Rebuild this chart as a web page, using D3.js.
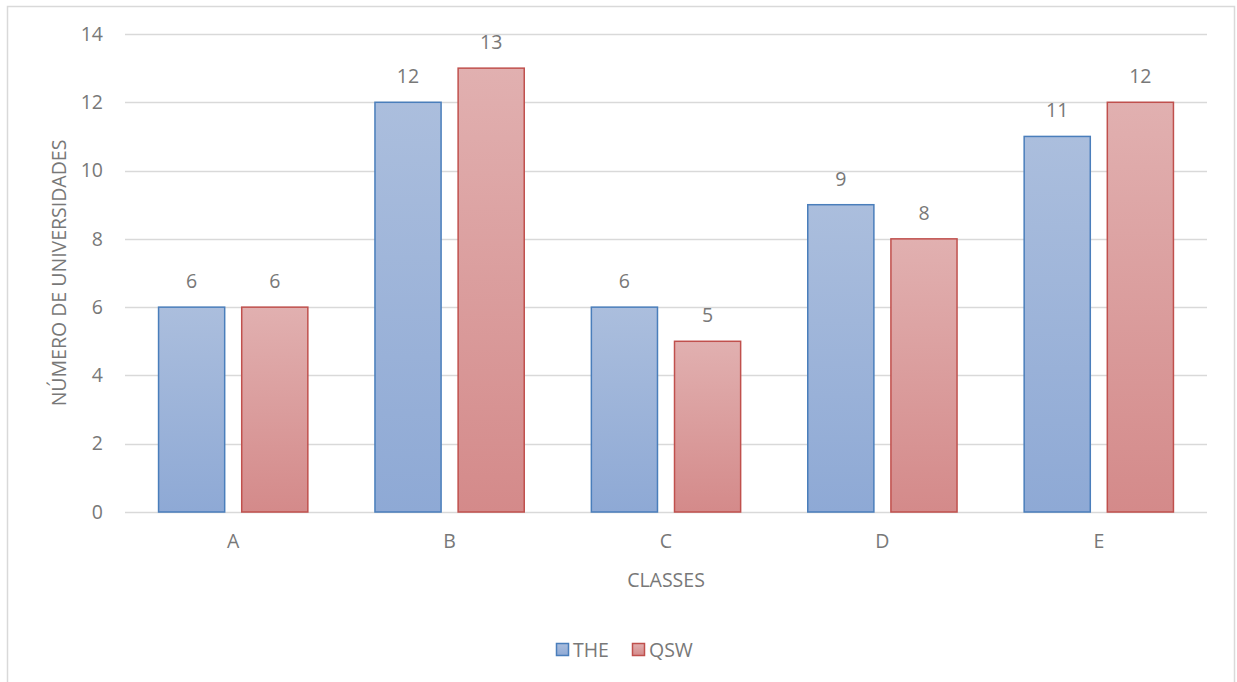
<!DOCTYPE html>
<html>
<head>
<meta charset="utf-8">
<script src="https://cdn.jsdelivr.net/npm/d3@7"></script>
<style>
  html, body { margin: 0; padding: 0; background: #fff; }
  svg { display: block; font-family: "Open Sans", Lato, sans-serif; }
</style>
</head>
<body>
<svg id="chart" width="1237" height="682"></svg>
<script>
const categories = ["A", "B", "C", "D", "E"];
const seriesNames = ["THE", "QSW"];
const theValues = [6, 12, 6, 9, 11];
const qswValues = [6, 13, 5, 8, 12];
const yTicks = [0, 2, 4, 6, 8, 10, 12, 14];

const series = [
  { name: seriesNames[0], values: theValues, top: "#abbedd", bottom: "#8ea9d5", stroke: "#4a7ebb" },
  { name: seriesNames[1], values: qswValues, top: "#e1b0b0", bottom: "#d48a8a", stroke: "#c0504d" }
];

const svg = d3.select("#chart");
const textColor = "#787878";
const fontSize = 19.5;

// outer chart border
svg.append("rect")
  .attr("x", 7.5).attr("y", 6.5).attr("width", 1227).attr("height", 690)
  .attr("fill", "none").attr("stroke", "#d9d9d9").attr("stroke-width", 1.5);

const defs = svg.append("defs");
series.forEach((s, i) => {
  const g = defs.append("linearGradient").attr("id", "grad" + i)
    .attr("x1", 0).attr("y1", 0).attr("x2", 0).attr("y2", 1);
  g.append("stop").attr("offset", "0%").attr("stop-color", s.top);
  g.append("stop").attr("offset", "100%").attr("stop-color", s.bottom);
});

const plot = { left: 125, right: 1207, top: 34, bottom: 512 };

const x = d3.scaleBand().domain(categories).range([plot.left, plot.right]);
const xInner = d3.scaleBand().domain(seriesNames).range([0, x.bandwidth()])
  .paddingInner(16 / 83).paddingOuter(33 / 83);
const y = d3.scaleLinear().domain([0, 14]).range([plot.bottom, plot.top]);

// gridlines
svg.append("g").selectAll("line").data(yTicks).join("line")
  .attr("x1", plot.left).attr("x2", plot.right)
  .attr("y1", d => Math.round(y(d)) + 0.5).attr("y2", d => Math.round(y(d)) + 0.5)
  .attr("stroke", "#d9d9d9").attr("stroke-width", 1.3);

// y axis tick labels
const yAxis = d3.axisLeft(y).tickValues(yTicks).tickSize(0).tickPadding(0);
const yg = svg.append("g").attr("transform", `translate(${plot.left - 22},0)`).call(yAxis);
yg.select(".domain").remove();
yg.selectAll("text").attr("fill", textColor).attr("font-size", fontSize)
  .attr("font-family", "'Open Sans', sans-serif");

// x axis category labels
const xAxis = d3.axisBottom(x).tickSize(0).tickPadding(0);
const xg = svg.append("g").attr("transform", `translate(0,${plot.bottom + 22})`).call(xAxis);
xg.select(".domain").remove();
xg.selectAll("text").attr("fill", textColor).attr("font-size", fontSize)
  .attr("font-family", "'Open Sans', sans-serif");

// bars
const groups = svg.append("g").selectAll("g").data(categories).join("g")
  .attr("transform", d => `translate(${x(d)},0)`);

series.forEach((s, si) => {
  groups.append("rect")
    .attr("x", () => xInner(s.name) + 0.5)
    .attr("y", (d, i) => y(s.values[i]))
    .attr("width", xInner.bandwidth() - 1)
    .attr("height", (d, i) => y(0) - y(s.values[i]))
    .attr("fill", `url(#grad${si})`)
    .attr("stroke", s.stroke).attr("stroke-width", 1.5);

  groups.append("text")
    .attr("x", xInner(s.name) + xInner.bandwidth() / 2)
    .attr("y", (d, i) => y(s.values[i]) - 19)
    .attr("text-anchor", "middle")
    .attr("fill", textColor).attr("font-size", fontSize)
    .text((d, i) => s.values[i]);
});

// axis titles
svg.append("text")
  .attr("x", (plot.left + plot.right) / 2).attr("y", 587)
  .attr("text-anchor", "middle").attr("fill", textColor).attr("font-size", fontSize)
  .text("CLASSES");

svg.append("text")
  .attr("transform", `translate(66,${(plot.top + plot.bottom) / 2}) rotate(-90)`)
  .attr("text-anchor", "middle").attr("fill", textColor).attr("font-size", fontSize)
  .text("NÚMERO DE UNIVERSIDADES");

// legend
const legend = svg.append("g").attr("transform", "translate(556,643)");
const legendX = [0, 76];
series.forEach((s, i) => {
  const lg = legend.append("g").attr("transform", `translate(${legendX[i]},0)`);
  lg.append("rect").attr("x", 0.5).attr("y", 0.5).attr("width", 12).attr("height", 12)
    .attr("fill", `url(#grad${i})`).attr("stroke", s.stroke).attr("stroke-width", 1.5);
  lg.append("text").attr("x", 17).attr("y", 14)
    .attr("fill", textColor).attr("font-size", fontSize).text(s.name);
});
</script>
</body>
</html>
